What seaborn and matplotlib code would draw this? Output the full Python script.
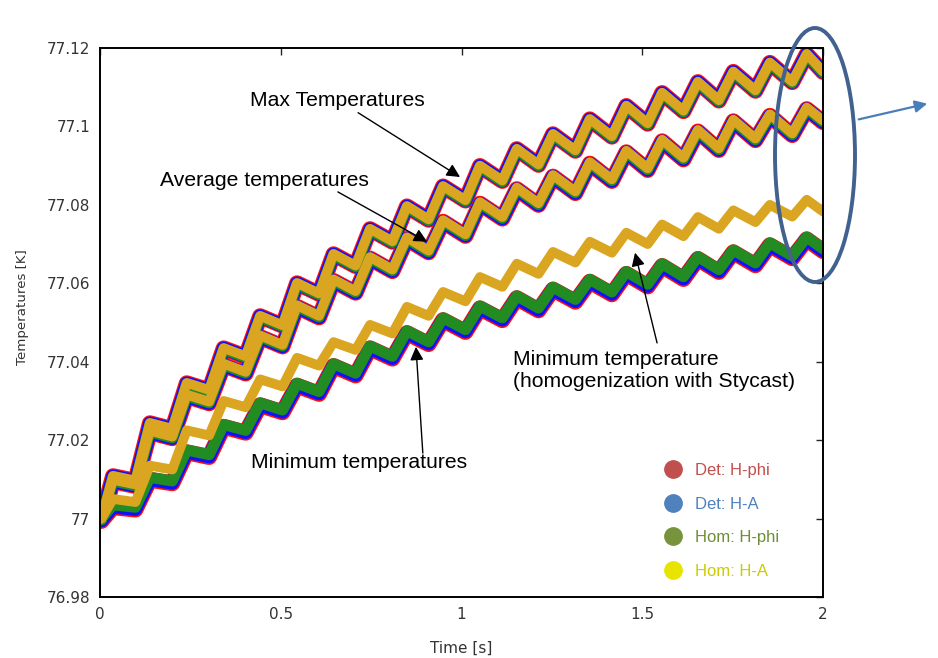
import matplotlib
matplotlib.use("Agg")
import matplotlib.pyplot as plt
import seaborn as sns
import pandas as pd
from matplotlib.patches import Ellipse, FancyArrowPatch
from matplotlib.lines import Line2D

# ---------------- data ----------------
series_names = ["Det: H-phi", "Det: H-A", "Hom: H-phi", "Hom: H-A"]
line_colors = ["#ff1010", "#1010ff", "#228b22", "#daa520"]
legend_colors = ["#c0504d", "#4f81bd", "#77933c", "#e8e400"]
legend_text_colors = ["#c0504d", "#4f81bd", "#6f8f35", "#cccc00"]

start_t = [0.0, 0.004]
start_T = [77.0, 77.0]

peak_t = [0.036, 0.138, 0.240, 0.342, 0.443, 0.545, 0.646, 0.747, 0.849, 0.949,
          1.051, 1.153, 1.253, 1.355, 1.456, 1.555, 1.654, 1.752, 1.853, 1.955]
trough_t = [0.098, 0.200, 0.302, 0.403, 0.505, 0.606, 0.707, 0.809, 0.909, 1.011,
            1.113, 1.213, 1.315, 1.416, 1.515, 1.614, 1.712, 1.813, 1.915, 2.000]

max_peaks = [77.0109, 77.0244, 77.0346, 77.0435, 77.0517, 77.0601, 77.0675, 77.0739, 77.0797, 77.0848,
             77.0900, 77.0943, 77.0981, 77.1019, 77.1053, 77.1086, 77.1114, 77.1140, 77.1163, 77.1185]
max_troughs = [77.0097, 77.0229, 77.0328, 77.0414, 77.0493, 77.0574, 77.0645, 77.0707, 77.0763, 77.0812,
               77.0862, 77.0903, 77.0939, 77.0975, 77.1008, 77.1040, 77.1067, 77.1092, 77.1114, 77.1140]

avg_peaks = [77.0099, 77.0224, 77.0316, 77.0395, 77.0467, 77.0544, 77.0610, 77.0667, 77.0717, 77.0761,
             77.0807, 77.0844, 77.0876, 77.0909, 77.0938, 77.0966, 77.0991, 77.1017, 77.1031, 77.1048]
avg_troughs = [77.0087, 77.0209, 77.0298, 77.0374, 77.0443, 77.0517, 77.0580, 77.0635, 77.0683, 77.0725,
               77.0769, 77.0804, 77.0834, 77.0865, 77.0893, 77.0920, 77.0944, 77.0969, 77.0982, 77.1015]

min_peaks = [77.0035, 77.0105, 77.0175, 77.0240, 77.0295, 77.0345, 77.0395, 77.0440, 77.0479, 77.0512,
             77.0542, 77.0568, 77.0590, 77.0610, 77.0630, 77.0650, 77.0668, 77.0685, 77.0703, 77.0718]
min_troughs = [77.0029, 77.0096, 77.0163, 77.0225, 77.0277, 77.0324, 77.0371, 77.0414, 77.0451, 77.0482,
               77.0512, 77.0537, 77.0559, 77.0578, 77.0598, 77.0617, 77.0635, 77.0652, 77.0670, 77.0688]

# Minimum temperature, homogenization with Stycast (Hom: H-A)
minsty_peaks = [77.0050, 77.0135, 77.0225, 77.0300, 77.0355, 77.0410, 77.0450, 77.0494, 77.0540, 77.0578,
                77.0616, 77.0650, 77.0680, 77.0706, 77.0729, 77.0750, 77.0769, 77.0786, 77.0800, 77.0813]
minsty_troughs = [77.0042, 77.0125, 77.0212, 77.0284, 77.0337, 77.0390, 77.0430, 77.0472, 77.0517, 77.0554,
                  77.0591, 77.0624, 77.0653, 77.0678, 77.0700, 77.0720, 77.0739, 77.0756, 77.0770, 77.0783]

# small vertical separation between the overlapping series (K), per curve group
shift_max = [-0.0001, -0.0001, -0.0003, 0.0]
shift_avg = [-0.0004, -0.0004, -0.0003, 0.0]
shift_min = [-0.0006, -0.0005, 0.0, 0.0]

xticks = [0, 0.5, 1, 1.5, 2]
xtick_labels = ["0", "0.5", "1", "1.5", "2"]
yticks = [76.98, 77.0, 77.02, 77.04, 77.06, 77.08, 77.1, 77.12]
ytick_labels = ["76.98", "77", "77.02", "77.04", "77.06", "77.08", "77.1", "77.12"]

# ---------------- build table ----------------
def build(peaks, troughs):
    ts = list(start_t)
    vs = list(start_T)
    for pt, pv, tt, tv in zip(peak_t, peaks, trough_t, troughs):
        ts += [pt, tt]
        vs += [pv, tv]
    return ts, vs

rows = []
for si, name in enumerate(series_names):
    groups = [("max", max_peaks, max_troughs, shift_max[si]),
              ("avg", avg_peaks, avg_troughs, shift_avg[si])]
    if name == "Hom: H-A":
        groups.append(("min", minsty_peaks, minsty_troughs, shift_min[si]))
    else:
        groups.append(("min", min_peaks, min_troughs, shift_min[si]))
    for g, p, tr, sh in groups:
        ts, vs = build(p, tr)
        for t, v in zip(ts, vs):
            rows.append({"series": name, "group": g, "t": t, "T": v + sh})
df = pd.DataFrame(rows)

# ---------------- plot ----------------
sns.set_style("white")
plt.rcParams["font.family"] = ["DejaVu Sans"]

fig = plt.figure(figsize=(9.38, 6.58), dpi=100)
ax = fig.add_axes([100 / 938, 1 - 597 / 658, 723 / 938, 549 / 658])

widths = [11.5, 9.8, 8.0, 7.0]
for si, name in enumerate(series_names):
    for g in ["max", "avg", "min"]:
        sub = df[(df["series"] == name) & (df["group"] == g)]
        sns.lineplot(data=sub, x="t", y="T", ax=ax, color=line_colors[si], lw=widths[si],
                     sort=False, estimator=None, legend=False,
                     solid_joinstyle="round", solid_capstyle="round")

ax.set_xlim(0, 2)
ax.set_ylim(76.98, 77.12)
ax.set_xticks(xticks)
ax.set_xticklabels(xtick_labels)
ax.set_yticks(yticks)
ax.set_yticklabels(ytick_labels)
ax.tick_params(direction="in", length=5, width=1, top=True, right=True,
               labelsize=11, labelcolor="#333333", pad=7)
for sp in ax.spines.values():
    sp.set_color("black")
    sp.set_linewidth(1.4)
ax.set_xlabel("Time [s]", fontsize=11, color="#333333", labelpad=14)
ax.set_ylabel("Temperatures [K]", fontsize=9.6, color="#333333")
ax.yaxis.set_label_coords(-0.0985, 0.528)

# ---------------- annotations ----------------
afont = dict(family="Liberation Sans", fontsize=15.2, color="black")
ax.text(0.656, 77.1065, "Max Temperatures", ha="center", va="center", **afont)
ax.text(0.454, 77.0861, "Average temperatures", ha="center", va="center", **afont)
ax.text(0.716, 77.0142, "Minimum temperatures", ha="center", va="center", **afont)
ax.text(1.142, 77.0377, "Minimum temperature\n(homogenization with Stycast)", ha="left", va="center",
        linespacing=1.2, **afont)

aprops = dict(arrowstyle="-|>", color="black", lw=1.0, mutation_scale=20, shrinkA=0, shrinkB=0)
ax.annotate("", xy=(0.996, 77.0871), xytext=(0.714, 77.1035), arrowprops=aprops)
ax.annotate("", xy=(0.905, 77.0706), xytext=(0.658, 77.0833), arrowprops=aprops)
ax.annotate("", xy=(0.874, 77.0438), xytext=(0.893, 77.0167), arrowprops=aprops)
ax.annotate("", xy=(1.480, 77.0678), xytext=(1.541, 77.0448), arrowprops=aprops)

# ---------------- legend ----------------
handles = [Line2D([], [], marker="o", ls="", markersize=12.5, color=c) for c in legend_colors]
leg = ax.legend(handles, series_names, loc="upper left",
                bbox_to_anchor=(663 / 938, 1 - 463 / 658), bbox_transform=fig.transFigure,
                frameon=False, handletextpad=0.7, labelspacing=1.12,
                handlelength=1.2, borderpad=0, borderaxespad=0,
                prop={"family": "Liberation Sans", "size": 12})
for txt, c in zip(leg.get_texts(), legend_text_colors):
    txt.set_color(c)

# ---------------- highlight ellipse and arrow ----------------
ell = Ellipse((815 / 938, 1 - 155 / 658), 80 / 938, 254 / 658, transform=fig.transFigure,
              fill=False, edgecolor="#41618f", lw=2.8)
fig.patches.append(ell)
arr = FancyArrowPatch((856 / 938, 1 - 120 / 658), (930 / 938, 1 - 103 / 658),
                      transform=fig.transFigure, arrowstyle="-|>", mutation_scale=18,
                      color="#4a7ebb", lw=1.6)
fig.patches.append(arr)

fig.savefig("out.png", dpi=100, facecolor="white")
